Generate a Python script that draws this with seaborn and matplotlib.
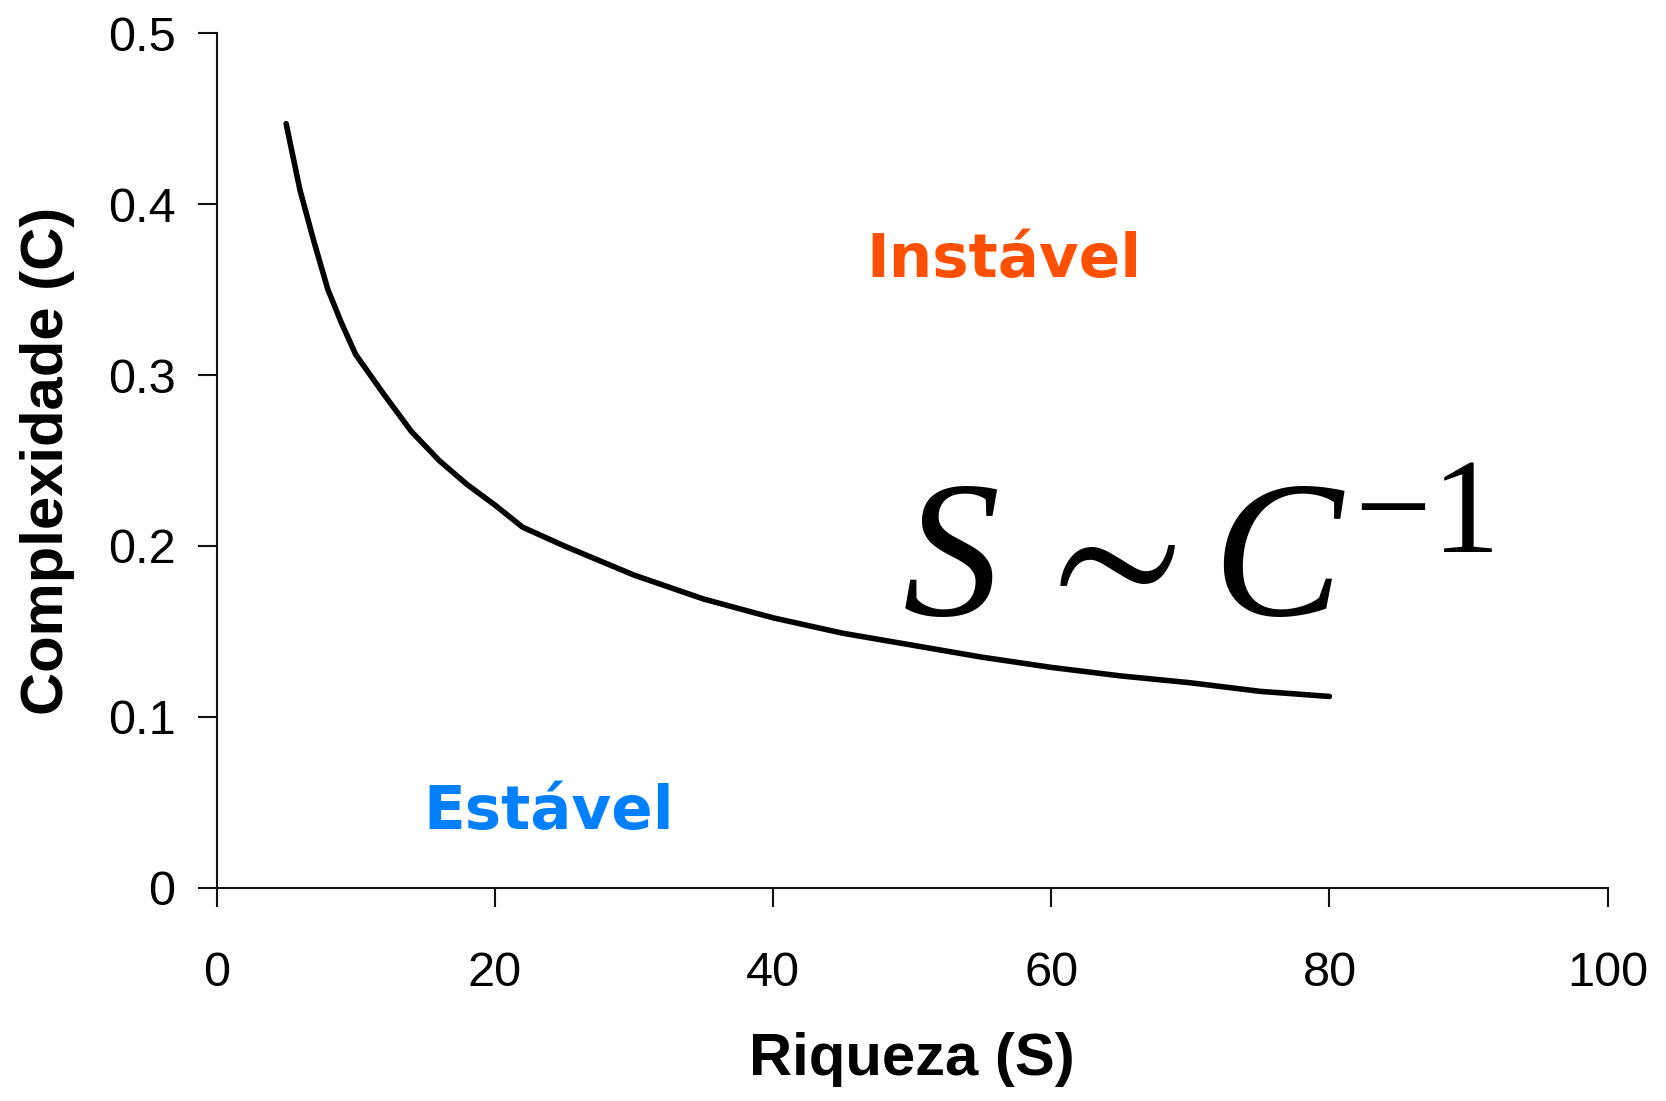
import matplotlib
matplotlib.use("Agg")
import matplotlib.pyplot as plt
import seaborn as sns
import pandas as pd

# Species richness (S) against connectance/complexity (C)
riqueza = [5, 6, 7, 8, 9, 10, 12, 14, 16, 18, 20, 22, 25, 30, 35, 40,
           45, 50, 55, 60, 65, 70, 75, 80]
complexidade = [0.447, 0.408, 0.378, 0.350, 0.330, 0.312, 0.289, 0.267,
                0.250, 0.236, 0.224, 0.211, 0.200, 0.183, 0.169, 0.158,
                0.149, 0.142, 0.135, 0.129, 0.124, 0.120, 0.115, 0.112]

x_ticks = [0, 20, 40, 60, 80, 100]
y_ticks = [0, 0.1, 0.2, 0.3, 0.4, 0.5]
y_tick_labels = ["0", "0.1", "0.2", "0.3", "0.4", "0.5"]

df = pd.DataFrame({"S": riqueza, "C": complexidade})

sns.set_theme(style="ticks")
plt.rcParams["font.family"] = ["Liberation Sans", "DejaVu Sans"]
plt.rcParams["mathtext.fontset"] = "custom"
plt.rcParams["mathtext.rm"] = "Liberation Serif"
plt.rcParams["mathtext.it"] = "Liberation Serif:italic"
plt.rcParams["mathtext.bf"] = "Liberation Serif:bold"
plt.rcParams["mathtext.fallback"] = "stix"

fig = plt.figure(figsize=(16.66, 11.01), dpi=100)
ax = fig.add_axes([0.130, 0.1935, 0.835, 0.7765])

sns.lineplot(data=df, x="S", y="C", color="black", linewidth=4.0, ax=ax)

ax.set_xlim(0, 100)
ax.set_ylim(0, 0.5)
ax.set_xticks(x_ticks)
ax.set_xticklabels([str(t) for t in x_ticks])
ax.set_yticks(y_ticks)
ax.set_yticklabels(y_tick_labels)

for side in ["top", "right"]:
    ax.spines[side].set_visible(False)
for side in ["left", "bottom"]:
    ax.spines[side].set_linewidth(1.5)
    ax.spines[side].set_color("#111111")

ax.tick_params(axis="both", direction="out", length=13.5, width=1.5,
               color="#111111", labelsize=35, labelcolor="black")
ax.tick_params(axis="x", pad=32)
ax.tick_params(axis="y", pad=16)

ax.set_xlabel("Riqueza (S)", fontsize=43, fontweight="bold", labelpad=26,
              color="black")
ax.set_ylabel("Complexidade (C)", fontsize=43, fontweight="bold", labelpad=24,
              color="black")

ax.text(56.6, 0.367, "Instável", color="#FF4F00", fontsize=44,
        fontweight="bold", family="DejaVu Sans", ha="center", va="center")
ax.text(23.9, 0.044, "Estável", color="#0080FF", fontsize=44,
        fontweight="bold", family="DejaVu Sans", ha="center", va="center")

ax.text(49.3, 0.159, r"$S\,\sim C^{-1}$", fontsize=140, color="black",
        ha="left", va="baseline")

fig.savefig("out.png", dpi=100)
